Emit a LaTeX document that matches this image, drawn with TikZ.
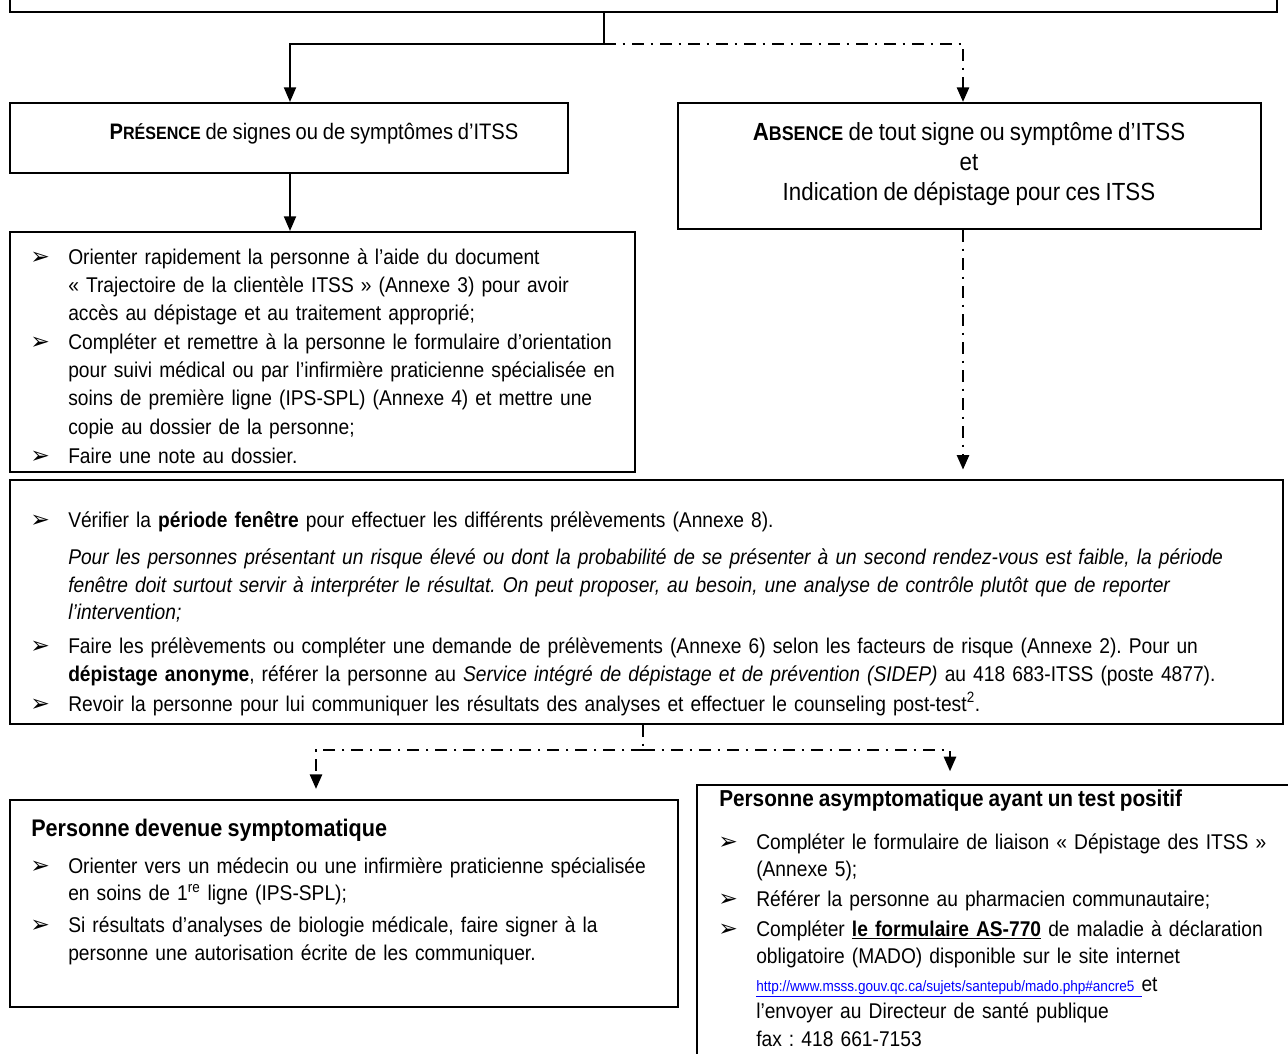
\documentclass[tikz,border=0pt]{standalone}
\usepackage{fontspec}
\setmainfont{Liberation Sans}[FakeStretch=0.9,WordSpace=0.85]
\newfontfamily\symfont{DejaVu Sans}
\usetikzlibrary{arrows.meta,fit}
\newlength\bw
\setlength\bw{28.5pt}
\newcommand\arr{{\symfont\fontsize{17.5pt}{17.5pt}\selectfont ➢}}
\newcommand\bi{\par\noindent\llap{\makebox[\bw][l]{\arr}}}
\newcommand\setup[1]{\frenchspacing\parindent=0pt\leftskip=#1\hyphenpenalty=10000\tolerance=9999}
\begin{document}
\begin{tikzpicture}[x=0.75pt,y=-0.75pt,
  box/.style={draw=black,line width=1.5pt,inner sep=0pt},
  conn/.style={line width=1.5pt},
  dd/.style={line width=2pt,dash pattern=on 9pt off 5pt on 2pt off 5pt},
  tip/.style={-{Triangle[length=11pt,width=9pt]}},
  txt/.style={anchor=north west,inner sep=0pt,font=\fontsize{16pt}{21.1pt}\selectfont},
  head/.style={inner sep=0pt,align=center},
  ttl/.style={anchor=west,inner sep=0pt,font=\bfseries},
]
\fill[white] (0,0) rectangle (1288,1053);
\useasboundingbox (0,0) rectangle (1288,1053);

% boxes
\node[box,fit={(10,-40)(1277,12)}] (top) {};
\node[box,fit={(10,103)(568,173)}] (pres) {};
\node[box,fit={(678,103)(1261,229)}] (abso) {};
\node[box,fit={(10,232)(635,472)}] (lst) {};
\node[box,fit={(10,480)(1283,724)}] (mid) {};
\node[box,fit={(10,800)(678,1007)}] (sym) {};
\node[box,fit={(697,785)(1310,1080)}] (pos) {};

% texts
\node[head,font=\fontsize{16.8pt}{22.5pt}\selectfont] (prest) at (314,134) {\textbf{P{\fontsize{13.4pt}{14pt}\selectfont RÉSENCE}} de signes ou de symptômes d’ITSS};
\node[head,font=\fontsize{18.6pt}{22.5pt}\selectfont] (absot) at (969,164) {\textbf{A{\fontsize{14.9pt}{14pt}\selectfont BSENCE}} de tout signe ou symptôme d’ITSS\\ et\\ Indication de dépistage pour ces ITSS};

\node[txt,text width=520pt,font=\fontsize{16pt}{21.2pt}\selectfont] (lstt) at (30,235) {\setup{\bw}\parskip=0.4pt
\bi Orienter rapidement la personne à l’aide du document\newline
« Trajectoire de la clientèle ITSS » (Annexe 3) pour avoir\newline
accès au dépistage et au traitement approprié;
\bi Compléter et remettre à la personne le formulaire d’orientation\newline
pour suivi médical ou par l’infirmière praticienne spécialisée en\newline
soins de première ligne (IPS-SPL) (Annexe 4) et mettre une\newline
copie au dossier de la personne;
\bi Faire une note au dossier.\par};

\node[txt,text width=980pt,font=\fontsize{16pt}{20.6pt}\selectfont] (midt) at (30,500) {\setup{\bw}
\bi Vérifier la \textbf{période fenêtre} pour effectuer les différents prélèvements (Annexe 8).\par
\vspace{7pt}
{\itshape \makebox[901.5pt][s]{Pour les personnes présentant un risque élevé ou dont la probabilité de se présenter à un second rendez-vous est faible, la période}\newline
\makebox[901.5pt][s]{fenêtre doit surtout servir à interpréter le résultat. On peut proposer, au besoin, une analyse de contrôle plutôt que de reporter}\newline
l’intervention;\par}
\vspace{5pt}
\bi Faire les prélèvements ou compléter une demande de prélèvements (Annexe 6) selon les facteurs de risque (Annexe 2). Pour un\newline
\textbf{dépistage anonyme}, référer la personne au \textit{Service intégré de dépistage et de prévention (SIDEP)} au 418 683-ITSS (poste 4877).\par
\vspace{2pt}
\bi Revoir la personne pour lui communiquer les résultats des analyses et effectuer le counseling post-test\textsuperscript{2}.\par};

\node[ttl,font=\fontsize{18pt}{18pt}\selectfont\bfseries] (symh) at (31,830) {Personne devenue symptomatique};
\node[txt,text width=560pt,font=\fontsize{16pt}{20.6pt}\selectfont] (symt) at (30,841) {\setup{\bw}\parskip=3.4pt
\bi Orienter vers un médecin ou une infirmière praticienne spécialisée\newline
en soins de 1\textsuperscript{re} ligne (IPS-SPL);
\bi Si résultats d’analyses de biologie médicale, faire signer à la\newline
personne une autorisation écrite de les communiquer.\par};

\node[ttl,font=\fontsize{17.3pt}{18pt}\selectfont\bfseries] (posh) at (719,801) {Personne asymptomatique ayant un test positif};
\node[txt,text width=480pt,font=\fontsize{16pt}{20.7pt}\selectfont] (post) at (722,819) {\setup{25.5pt}\parskip=1.6pt
\bi Compléter le formulaire de liaison « Dépistage des ITSS »\newline
(Annexe 5);
\bi Référer la personne au pharmacien communautaire;
\bi Compléter \underline{\textbf{le formulaire AS-770}} de maladie à déclaration\newline
obligatoire (MADO) disponible sur le site internet\newline
{\color{blue}\fontsize{11.3pt}{12pt}\selectfont\underline{http://www.msss.gouv.qc.ca/sujets/santepub/mado.php\#ancre5 }}et\newline
l’envoyer au Directeur de santé publique\newline
fax : 418 661-7153\par};

% connectors
\coordinate (j1) at (604,44);
\coordinate (xa) at (290,0);
\coordinate (xb) at (963,0);
\draw[conn] (top.south -| j1) -- (j1);
\draw[conn,tip] (j1) -| (pres.north -| xa);
\draw[dd,tip] (j1) -| (abso.north -| xb);
\draw[conn,tip] (pres.south -| xa) -- (lst.north -| xa);
\draw[dd,tip,shorten >=7pt] (abso.south -| xb) -- (mid.north -| xb);

\coordinate (j2) at (643,750);
\coordinate (xc) at (316,0);
\coordinate (xd) at (950,0);
\draw[dd] (mid.south -| j2) -- (j2);
\draw[dd,tip,shorten >=7.5pt] (j2) -| (sym.north -| xc);
\draw[dd,tip,shorten >=9.5pt] (j2) -| (pos.north -| xd);
\end{tikzpicture}
\end{document}
